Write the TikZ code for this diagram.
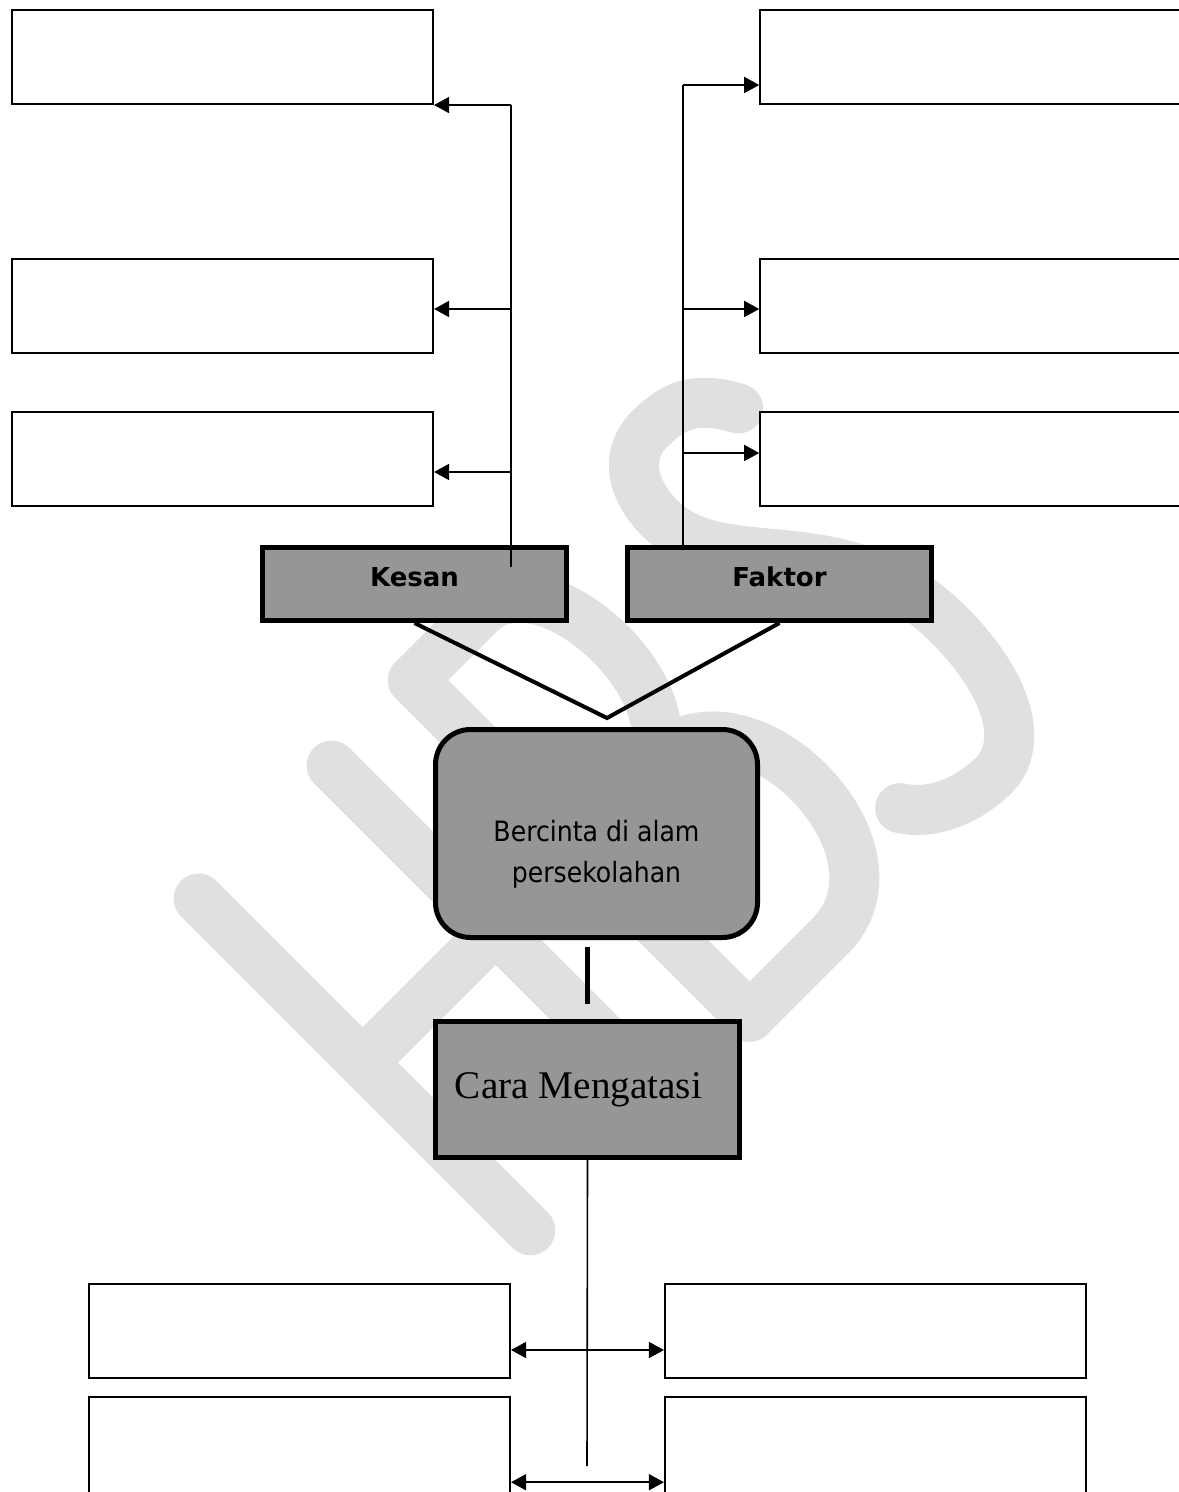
\documentclass[tikz,border=0pt]{standalone}
\usepackage{fontspec}
\usetikzlibrary{arrows.meta}
\newfontfamily\headfont{DejaVu Sans}
\newfontfamily\topicfont{DejaVu Sans Condensed}
\newfontfamily\wayfont{Liberation Serif}
\definecolor{boxgray}{RGB}{150,150,150}
\definecolor{markgray}{RGB}{224,224,224}

\begin{document}
\begin{tikzpicture}[x=0.5pt, y=-0.5pt,
    emptybox/.style={draw, line width=0.8pt, fill=white, minimum width=210.75pt, minimum height=47.25pt, inner sep=0pt},
    headbox/.style={draw, line width=2.5pt, fill=boxgray, minimum width=152pt, minimum height=36.5pt, inner sep=0pt,
        font=\headfont\bfseries\fontsize{13}{15}\selectfont, text depth=7pt},
    armline/.style={line width=0.8pt, -{Triangle[length=7.5pt,width=8pt]}},
    bothline/.style={line width=0.8pt, {Triangle[length=7.5pt,width=8pt]}-{Triangle[length=7.5pt,width=8pt]}},
    boldline/.style={line width=2pt},
    wm/.style={draw=markgray, line width=25pt, line cap=round, line join=round}]
    \useasboundingbox (0,0) rectangle (1178,1492);
    \fill[white] (0,0) rectangle (1178,1492);
    % Draw the watermark letters
    \begin{scope}[shift={(543,1243)}, x={(0.3536pt,0.3536pt)}, y={(-0.3536pt,0.3536pt)}]
        \draw[wm] (0,18) -- (0,487);
        \draw[wm] (188,18) -- (188,487);
        \draw[wm] (0,255) -- (188,255);
        \draw[wm] (306,14) -- (306,490);
        \draw[wm] (306,490) -- (400,490) .. controls (495,490) and (495,262) .. (400,262) -- (306,262);
        \draw[wm] (400,262) -- (420,262) .. controls (545,262) and (545,14) .. (420,14) -- (306,14);
        \draw[wm] (728,452) .. controls (705,495) and (680,500) .. (650,500)
            .. controls (615,500) and (595,470) .. (595,430)
            .. controls (595,340) and (724,300) .. (724,150)
            .. controls (724,60) and (690,12) .. (650,12)
            .. controls (610,12) and (575,30) .. (560,55);
    \end{scope}
    % Draw the empty answer boxes
    \node[emptybox] (kesanA) at (222.5,57) {};
    \node[emptybox] (kesanB) at (222.5,306) {};
    \node[emptybox] (kesanC) at (222.5,459) {};
    \node[emptybox, minimum width=215pt] (faktorA) at (975,57) {};
    \node[emptybox, minimum width=215pt] (faktorB) at (975,306) {};
    \node[emptybox, minimum width=215pt] (faktorC) at (975,459) {};
    \node[emptybox] (caraA) at (299.5,1331) {};
    \node[emptybox] (caraB) at (299.5,1448.5) [minimum height=51.5pt] {};
    \node[emptybox] (caraC) at (875.5,1331) {};
    \node[emptybox] (caraD) at (875.5,1448.5) [minimum height=51.5pt] {};
    % Draw the main boxes
    \node[headbox] (kesan) at (414.5,584) {Kesan};
    \node[headbox] (faktor) at (779.5,584) {Faktor};
    \node[draw, line width=2.5pt, fill=boxgray, rounded corners=17.5pt, minimum width=161pt, minimum height=104pt] (topic) at (596.5,833.5) {};
    \node[font=\topicfont\fontsize{14}{20.5}\selectfont, align=center] (topictext) at ([yshift=-10.5pt]topic.center) {Bercinta di alam\\persekolahan};
    \node[draw, line width=2.5pt, fill=boxgray, minimum width=152pt, minimum height=68pt, inner sep=0pt,
        font=\wayfont\fontsize{19.6}{23}\selectfont] (cara) at (587.5,1089.5) {Cara Mengatasi\kern9pt};
    % Draw the branches of Kesan
    \coordinate (ktop) at (511,105);
    \coordinate (kbot) at (511,567);
    \draw[line width=0.8pt] (ktop) -- (kbot);
    \draw[armline] (ktop) -- (kesanA.south east);
    \draw[armline] ([yshift=-1.5pt]kesanB.east -| ktop) -- ([yshift=-1.5pt]kesanB.east);
    \draw[armline] ([yshift=-6.5pt]kesanC.east -| ktop) -- ([yshift=-6.5pt]kesanC.east);
    % Draw the branches of Faktor
    \coordinate (ftop) at (683,85);
    \draw[line width=0.8pt] (ftop) -- (ftop |- faktor.north);
    \draw[armline] (ftop) -- (ftop -| faktorA.west);
    \draw[armline] ([yshift=-1.5pt]faktorB.west -| ftop) -- ([yshift=-1.5pt]faktorB.west);
    \draw[armline] ([yshift=3pt]faktorC.west -| ftop) -- ([yshift=3pt]faktorC.west);
    % Join the heads to the topic
    \coordinate (vtx) at (607,718);
    \draw[boldline] (kesan.south) -- (vtx) -- (faktor.south);
    \draw[line width=2.5pt] ([yshift=-3.5pt]topic.south -| cara.north) -- ([yshift=7.5pt]cara.north);
    % Draw the branches of Cara Mengatasi
    \coordinate (cbot) at (587,1466);
    \draw[line width=0.8pt] (cara.south) -- (cbot);
    \draw[bothline] ([yshift=-9.5pt]caraA.east) -- ([yshift=-9.5pt]caraC.west);
    \draw[bothline] ([yshift=-43pt]caraB.north east) -- ([yshift=-43pt]caraD.north west);
\end{tikzpicture}
\end{document}
